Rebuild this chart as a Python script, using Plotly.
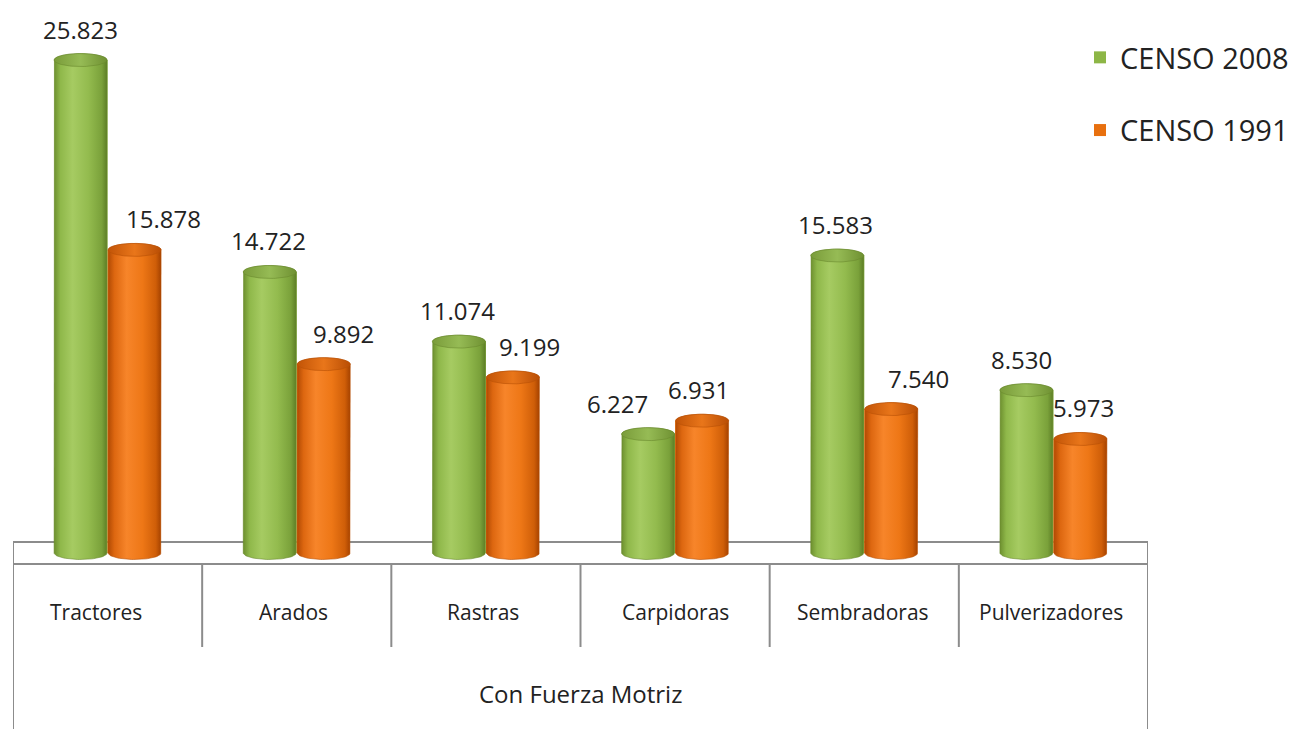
import numpy as np
import plotly.graph_objects as go

# ---------------- data ----------------
categories = ["Tractores", "Arados", "Rastras", "Carpidoras", "Sembradoras", "Pulverizadores"]
group_label = "Con Fuerza Motriz"
series_names = ["CENSO 2008", "CENSO 1991"]
censo_2008 = [25823, 14722, 11074, 6227, 15583, 8530]
censo_1991 = [15878, 9892, 9199, 6931, 7540, 5973]

# ---------------- style ----------------
W, H = 1296, 729
ML, MR = 13, W - 1148
Y_MIN, Y_MAX = -9220, 28968          # y axis range (0 sits on the floor)
BAR_OFFSET = 0.1427                  # half distance between paired bars (x units)
HALF_W = 0.14                        # cylinder half width (x units)
RY = 340                             # ellipse vertical radius (y units)
FONT = "Open Sans"
TXT = "#222222"
GRID = "#8c8c8c"
colors = ["#8db646", "#e8700f"]
grads = [
    [[0, "#6d8f2f"], [0.12, "#8fb84a"], [0.35, "#a6cb62"], [0.65, "#93bb4e"], [0.9, "#7aa13a"], [1, "#5d7e26"]],
    [[0, "#b14a04"], [0.12, "#dd6710"], [0.35, "#f7852a"], [0.65, "#ee7716"], [0.9, "#cf5e08"], [1, "#a54200"]],
]
cap_grads = [
    [[0, "#7a9c3a"], [0.5, "#96bb55"], [1, "#6f9132"]],
    [[0, "#c25407"], [0.5, "#e9761a"], [1, "#b94e05"]],
]
edge = ["#6a8a2e", "#b85005"]
# per-label pixel nudges (label placement of the original 3-D chart)
label_dx = [[0, -1, -1, -31, -2, -5], [29, 20, 17, -4, 27, 3]]
cat_dx = [-12, -3, -3, 0, -1, -2]
LABEL_DY = 31

def fmt(v):
    return f"{v:,}".replace(",", ".")

x_idx = np.arange(len(categories))
series = [censo_2008, censo_1991]
offsets = [-BAR_OFFSET, BAR_OFFSET]

fig = go.Figure()

# flat bars (data marks + legend)
for s, (name, vals) in enumerate(zip(series_names, series)):
    fig.add_trace(go.Bar(
        x=x_idx, y=vals, name=name, marker=dict(color=colors[s], line=dict(width=0)),
        legendgroup=name, hoverinfo="skip",
    ))

# cylinder shading built from the same values
t_up = np.linspace(np.pi, 0, 40)
t_dn = np.linspace(0, -np.pi, 40)
t_full = np.linspace(0, 2 * np.pi, 80)
for s, vals in enumerate(series):
    for i, v in zip(x_idx, vals):
        xc = i + offsets[s]
        xs = np.concatenate([[xc - HALF_W], xc + HALF_W * np.cos(t_up), [xc + HALF_W], xc + HALF_W * np.cos(t_dn)])
        ys = np.concatenate([[0], v + RY * np.sin(t_up), [0], RY * np.sin(t_dn)])
        fig.add_trace(go.Scatter(
            x=xs, y=ys, mode="lines", fill="toself",
            fillgradient=dict(type="horizontal", colorscale=grads[s]),
            line=dict(width=0.6, color=edge[s]), showlegend=False, hoverinfo="skip",
        ))
        fig.add_trace(go.Scatter(
            x=xc + HALF_W * np.cos(t_full), y=v + RY * np.sin(t_full), mode="lines", fill="toself",
            fillgradient=dict(type="horizontal", colorscale=cap_grads[s]),
            line=dict(width=0.6, color=edge[s]), showlegend=False, hoverinfo="skip",
        ))

# value labels
annotations = []
for s, vals in enumerate(series):
    for i, v in zip(x_idx, vals):
        annotations.append(dict(
            x=i + offsets[s], y=v, xref="x", yref="y", text=fmt(v), showarrow=False,
            xshift=label_dx[s][i], yshift=LABEL_DY, yanchor="middle",
            font=dict(family=FONT, size=24, color=TXT),
        ))

def py(px):  # pixel row -> paper y
    return 1 - px / H

def pxx(px):  # pixel column -> paper x
    return (px - ML) / (W - ML - MR)

# category labels
for i, c in enumerate(categories):
    annotations.append(dict(
        x=i, y=py(612), xref="x", yref="paper", text=c, showarrow=False, yanchor="middle",
        xshift=cat_dx[i], font=dict(family=FONT, size=21, color=TXT),
    ))
annotations.append(dict(
    x=(len(categories) - 1) / 2, y=py(693), xref="x", yref="paper", text=group_label,
    showarrow=False, yanchor="middle", font=dict(family=FONT, size=24, color=TXT),
))

# floor + table lines
shapes = []
line = dict(color=GRID, width=2)
y_back, y_front, y_mid = py(542), py(564), py(647)
x0, x1 = -0.5, len(categories) - 0.5
shapes.append(dict(type="rect", xref="x", yref="paper", x0=x0, x1=x1, y0=y_front, y1=y_back,
                   line=line, fillcolor="white", layer="below"))
shapes.append(dict(type="line", xref="x", yref="paper", x0=x0, x1=x0, y0=0, y1=y_front, line=line))
shapes.append(dict(type="line", xref="x", yref="paper", x0=x1, x1=x1, y0=0, y1=y_front, line=line))
for i in range(len(categories) - 1):
    shapes.append(dict(type="line", xref="x", yref="paper", x0=i + 0.5, x1=i + 0.5,
                       y0=y_mid, y1=y_front, line=line))

fig.update_layout(
    width=W, height=H,
    margin=dict(l=ML, r=MR, t=0, b=0, autoexpand=False),
    paper_bgcolor="white", plot_bgcolor="white",
    barmode="group", bargap=0.44, bargroupgap=0,
    xaxis=dict(range=[x0, x1], visible=False, fixedrange=True),
    yaxis=dict(range=[Y_MIN, Y_MAX], visible=False, fixedrange=True),
    showlegend=True,
    legend=dict(x=pxx(1080), y=py(32), xref="paper", yref="paper", xanchor="left", yanchor="top",
                font=dict(family=FONT, size=29, color=TXT), bgcolor="rgba(0,0,0,0)",
                tracegroupgap=32, traceorder="grouped", itemwidth=30),
    annotations=annotations,
    shapes=shapes,
)

fig.write_html("out.html", config={"displayModeBar": False},
               post_script="document.body.style.margin='0';")
